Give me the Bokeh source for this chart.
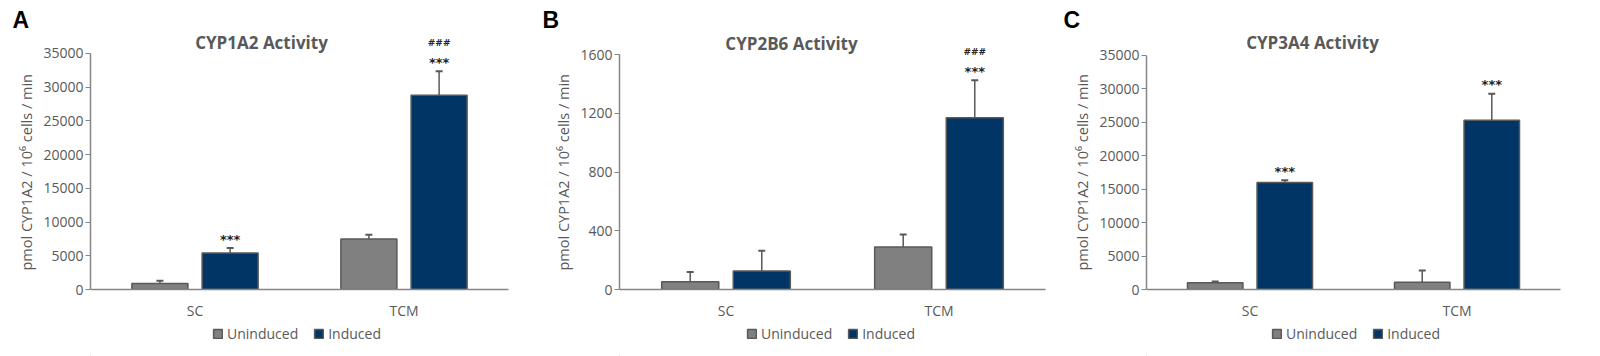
from bokeh.plotting import figure
from bokeh.models import (FactorRange, Range1d, Legend, LegendItem, Label,
                          ColumnDataSource, FixedTicker)
from bokeh.transform import dodge
from bokeh.layouts import row, column
from bokeh.embed import file_html
from bokeh.resources import INLINE

# ---------------- data ----------------
categories = ["SC", "TCM"]
series_names = ["Uninduced", "Induced"]
panel_letters = ["A", "B", "C"]
titles = ["CYP1A2 Activity", "CYP2B6 Activity", "CYP3A4 Activity"]
y_axis_label = "pmol CYP1A2 / 10\u2076 cells / min"

cyp1a2_uninduced = [900, 7500]
cyp1a2_uninduced_err = [400, 600]
cyp1a2_induced = [5400, 28800]
cyp1a2_induced_err = [750, 3550]
cyp1a2_stars = ["***", "***"]
cyp1a2_hashes = ["", "###"]
cyp1a2_ticks = [0, 5000, 10000, 15000, 20000, 25000, 30000, 35000]

cyp2b6_uninduced = [52, 290]
cyp2b6_uninduced_err = [68, 85]
cyp2b6_induced = [126, 1170]
cyp2b6_induced_err = [137, 255]
cyp2b6_stars = ["", "***"]
cyp2b6_hashes = ["", "###"]
cyp2b6_ticks = [0, 400, 800, 1200, 1600]

cyp3a4_uninduced = [1000, 1100]
cyp3a4_uninduced_err = [200, 1750]
cyp3a4_induced = [16000, 25300]
cyp3a4_induced_err = [350, 3950]
cyp3a4_stars = ["***", "***"]
cyp3a4_hashes = ["", ""]
cyp3a4_ticks = [0, 5000, 10000, 15000, 20000, 25000, 30000, 35000]

# ---------------- style / layout ----------------
GRAY = "#808080"
NAVY = "#003566"
EDGE = "#595959"
AXIS = "#868686"
TEXT = "#595959"
FONT = "Open Sans"

MAIN_H = 322      # chart figure height
LEG_H = 34        # legend strip height
TOP = 32          # space above the plotting frame (panel letter)

panels = [
    dict(letter=panel_letters[0], title=titles[0], un=cyp1a2_uninduced, une=cyp1a2_uninduced_err,
         ind=cyp1a2_induced, inde=cyp1a2_induced_err, stars=cyp1a2_stars, hashes=cyp1a2_hashes,
         ticks=cyp1a2_ticks, width=540, mbl=90, mbr=32, mbb=32, axis_px=237,
         toff=-78, tx=171, legx=122),
    dict(letter=panel_letters[1], title=titles[1], un=cyp2b6_uninduced, une=cyp2b6_uninduced_err,
         ind=cyp2b6_induced, inde=cyp2b6_induced_err, stars=cyp2b6_stars, hashes=cyp2b6_hashes,
         ticks=cyp2b6_ticks, width=520, mbl=79, mbr=15, mbb=33, axis_px=235,
         toff=-77, tx=172, legx=127),
    dict(letter=panel_letters[2], title=titles[2], un=cyp3a4_uninduced, une=cyp3a4_uninduced_err,
         ind=cyp3a4_induced, inde=cyp3a4_induced_err, stars=cyp3a4_stars, hashes=cyp3a4_hashes,
         ticks=cyp3a4_ticks, width=540, mbl=86, mbr=40, mbb=32, axis_px=235,
         toff=-83, tx=166, legx=125),
]

BAR_W = 0.268
DODGE = 0.168

cols = []
for pn in panels:
    un_top = [v + e for v, e in zip(pn["un"], pn["une"])]
    ind_top = [v + e for v, e in zip(pn["ind"], pn["inde"])]
    src = ColumnDataSource(dict(cat=categories, un=pn["un"], un_top=un_top,
                                ind=pn["ind"], ind_top=ind_top))
    frame_h = MAIN_H - TOP - pn["mbb"]
    y_end = pn["ticks"][-1] * frame_h / pn["axis_px"]   # headroom for title/marks
    p = figure(x_range=FactorRange(*categories), y_range=Range1d(0, y_end),
               width=pn["width"], height=MAIN_H, output_backend="svg", toolbar_location=None,
               min_border_left=pn["mbl"], min_border_right=pn["mbr"],
               min_border_top=TOP, min_border_bottom=pn["mbb"])
    p.outline_line_color = None
    p.xgrid.grid_line_color = None
    p.ygrid.grid_line_color = None

    xu = dodge("cat", -DODGE, range=p.x_range)
    xi = dodge("cat", DODGE, range=p.x_range)

    p.segment(x0=xu, y0="un", x1=xu, y1="un_top", source=src, line_color=EDGE, line_width=1.5)
    p.segment(x0=xi, y0="ind", x1=xi, y1="ind_top", source=src, line_color=EDGE, line_width=1.5)
    p.scatter(x=xu, y="un_top", source=src, marker="dash", size=7, line_color=EDGE, line_width=2)
    p.scatter(x=xi, y="ind_top", source=src, marker="dash", size=7, line_color=EDGE, line_width=2)

    r_un = p.vbar(x=xu, top="un", width=BAR_W, source=src, fill_color=GRAY,
                  line_color=EDGE, line_width=1.5)
    r_in = p.vbar(x=xi, top="ind", width=BAR_W, source=src, fill_color=NAVY,
                  line_color=EDGE, line_width=1.5)

    # significance marks above the induced bars (synthetic categorical coordinates)
    for i, cat in enumerate(categories):
        xpos = i + 0.5 + DODGE
        if pn["stars"][i]:
            p.add_layout(Label(x=xpos, y=ind_top[i], text=pn["stars"][i], y_offset=9,
                               text_font="DejaVu Sans", text_font_size="13px",
                               text_font_style="bold", text_align="center",
                               text_baseline="middle", text_color="#222222"))
        if pn["hashes"][i]:
            p.add_layout(Label(x=xpos, y=ind_top[i], text=pn["hashes"][i], y_offset=28,
                               text_font="DejaVu Sans", text_font_size="9px",
                               text_font_style="bold", text_align="center",
                               text_baseline="middle", text_color="#222222"))

    # chart title inside the (extended) frame
    p.add_layout(Label(x=pn["tx"], y=frame_h - 10.5, x_units="screen", y_units="screen",
                       text=pn["title"], text_font=FONT, text_font_size="17px",
                       text_font_style="bold", text_color=TEXT, text_align="center",
                       text_baseline="alphabetic"))

    # axes
    p.yaxis.ticker = FixedTicker(ticks=pn["ticks"])
    p.yaxis.bounds = (0, pn["ticks"][-1])
    p.yaxis.minor_tick_line_color = None
    p.yaxis.major_tick_in = 0
    p.yaxis.major_tick_out = 5
    p.yaxis.major_tick_line_color = AXIS
    p.yaxis.axis_line_color = AXIS
    p.yaxis.axis_line_width = 1.5
    p.yaxis.major_label_text_font = FONT
    p.yaxis.major_label_text_font_size = "14px"
    p.yaxis.major_label_text_color = TEXT
    p.yaxis.major_label_standoff = 2
    p.yaxis.axis_label = y_axis_label + "\u00a0" * 6
    p.yaxis.axis_label_text_font = FONT
    p.yaxis.axis_label_text_font_size = "14.5px"
    p.yaxis.axis_label_text_font_style = "normal"
    p.yaxis.axis_label_text_color = TEXT
    p.yaxis.axis_label_standoff = 4

    p.xaxis.major_tick_line_color = None
    p.xaxis.minor_tick_line_color = None
    p.xaxis.axis_line_color = AXIS
    p.xaxis.axis_line_width = 1.5
    p.xaxis.major_label_text_font = FONT
    p.xaxis.major_label_text_font_size = "14px"
    p.xaxis.major_label_text_color = TEXT
    p.xaxis.major_label_standoff = 5

    # panel letter as the figure title (left of the frame)
    p.title.text = pn["letter"]
    p.title.align = "left"
    p.title.offset = pn["toff"]
    p.title.standoff = 0
    p.title.text_font = "Liberation Sans"
    p.title.text_font_size = "23px"
    p.title.text_font_style = "bold"
    p.title.text_color = "black"

    # legend strip (its frame is aligned with the chart frame above it)
    lg = figure(width=pn["width"], height=LEG_H, x_range=Range1d(0, 1), y_range=Range1d(0, 1),
                output_backend="svg", toolbar_location=None,
                min_border_left=0, min_border_right=0, min_border_top=0, min_border_bottom=0)
    lg.axis.visible = False
    lg.grid.grid_line_color = None
    lg.outline_line_color = None
    d_un = lg.vbar(x=[-5], top=[-5], width=0.1, fill_color=GRAY, line_color=EDGE, line_width=1.5)
    d_in = lg.vbar(x=[-5], top=[-5], width=0.1, fill_color=NAVY, line_color=EDGE, line_width=1.5)
    legend = Legend(items=[LegendItem(label=series_names[0], renderers=[d_un]),
                           LegendItem(label=series_names[1], renderers=[d_in])],
                    orientation="horizontal", location=(pn["legx"], 13),
                    border_line_color=None, background_fill_alpha=0,
                    label_text_font=FONT, label_text_font_size="14px",
                    label_text_color=TEXT, glyph_width=11, glyph_height=11,
                    label_standoff=4, spacing=15, padding=0, margin=0)
    lg.add_layout(legend)

    cols.append(column(p, lg))

layout = row(*cols)
open("out.html", "w").write(file_html(layout, INLINE))
